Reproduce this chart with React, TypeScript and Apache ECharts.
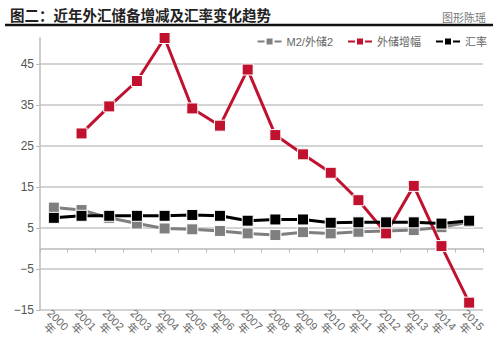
import React, { useEffect, useRef } from "react";
import * as echarts from "echarts";

const years = ["2000", "2001", "2002", "2003", "2004", "2005", "2006", "2007", "2008", "2009", "2010", "2011", "2012", "2013", "2014", "2015"];
const categories = years.map((y) => y + "\n年");
const m2Ratio = [10.0, 9.4, 7.5, 6.1, 4.9, 4.7, 4.3, 3.7, 3.3, 4.0, 3.7, 4.1, 4.3, 4.5, 5.2, 6.5];
const reserveGrowth = [null, 28.1, 34.7, 40.9, 51.4, 34.2, 30.0, 43.7, 27.7, 23.0, 18.5, 11.8, 3.7, 15.3, 0.6, -13.2];
const exchangeRate = [7.5, 8.0, 8.0, 8.0, 8.0, 8.2, 8.0, 6.8, 7.1, 7.1, 6.3, 6.4, 6.4, 6.4, 6.1, 6.8];

const FONT = "'Liberation Sans', 'Noto Sans CJK SC', sans-serif";

export default function App() {
  const ref = useRef<HTMLDivElement>(null);
  useEffect(() => {
    document.body.style.margin = "0";
    const chart = echarts.init(ref.current!, null, { renderer: "svg" });
    const mk = (name: string, data: any[], color: string, z: number) => ({
      name,
      type: "line",
      data,
      z,
      symbol: "rect",
      symbolSize: 11,
      lineStyle: { color, width: 3 },
      itemStyle: { color, borderColor: "#fff", borderWidth: 1 },
      emphasis: { disabled: true },
    });
    chart.setOption({
      animation: false,
      textStyle: { fontFamily: FONT },
      title: [
        {
          text: "图二：近年外汇储备增减及汇率变化趋势",
          left: 5,
          top: 4,
          textStyle: { fontSize: 14.5, fontWeight: "bold", color: "#222", fontFamily: FONT },
        },
        {
          text: "图形陈瑶",
          right: 9,
          top: 7,
          textStyle: { fontSize: 11, fontWeight: "normal", color: "#777", fontFamily: FONT },
        },
      ],
      graphic: [
        {
          type: "line",
          shape: { x1: 5, y1: 25, x2: 493, y2: 25 },
          style: { stroke: "#111", lineWidth: 2.5 },
        },
      ],
      legend: {
        right: 8,
        top: 31,
        itemWidth: 24,
        itemHeight: 10,
        itemGap: 14,
        textStyle: { fontSize: 11, color: "#666", fontFamily: FONT },
        data: ["M2/外储2", "外储增幅", "汇率"],
      },
      grid: { left: 40, right: 17, top: 38, bottom: 43 },
      xAxis: {
        type: "category",
        data: categories,
        boundaryGap: true,
        axisLine: { lineStyle: { color: "#bbb", width: 1.5 } },
        axisTick: { show: true, length: 4, lineStyle: { color: "#bbb" } },
        axisLabel: {
          rotate: -45,
          interval: 0,
          fontSize: 11,
          lineHeight: 12,
          color: "#666",
          align: "center",
          verticalAlign: "middle",
          margin: 14,
          fontFamily: FONT,
        },
      },
      yAxis: {
        type: "value",
        min: -15,
        max: 51.4,
        interval: 10,
        axisLine: { show: true, lineStyle: { color: "#bbb", width: 1.5 } },
        axisTick: { show: true, length: 4, lineStyle: { color: "#bbb" } },
        axisLabel: {
          fontSize: 12,
          color: "#555",
          margin: 6,
          showMaxLabel: false,
          fontFamily: FONT,
          formatter: (v: number) => (v < 0 ? "−" + Math.abs(v) : String(v)),
        },
        splitLine: { show: true, showMaxLine: false, lineStyle: { color: "#c4c4c4", width: 1.5 } },
      },
      series: [
        mk("M2/外储2", m2Ratio, "#7f7f7f", 2),
        mk("外储增幅", reserveGrowth, "#c0112f", 3),
        mk("汇率", exchangeRate, "#000000", 4),
      ],
    });
    return () => chart.dispose();
  }, []);
  return <div ref={ref} style={{ width: 500, height: 353 }} />;
}
